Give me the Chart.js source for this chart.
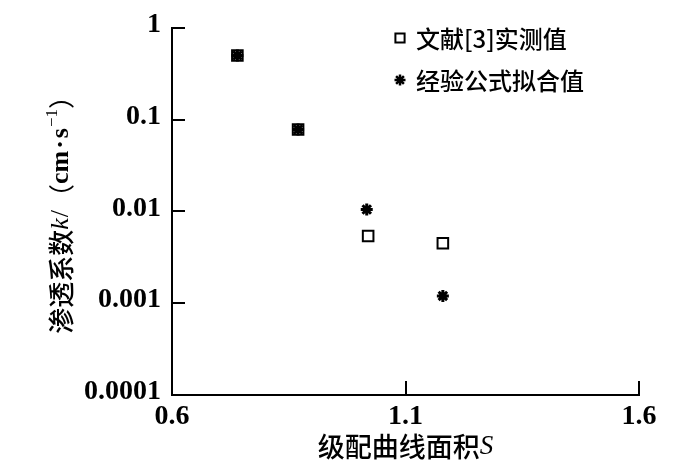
<!DOCTYPE html>
<html>
<head>
<meta charset="utf-8">
<script src="https://cdn.jsdelivr.net/npm/chart.js@4/dist/chart.umd.min.js"></script>
<style>
  html, body { margin: 0; padding: 0; background: #fff; }
  #wrap { width: 684px; height: 476px; }
</style>
</head>
<body>
<div id="wrap"><canvas id="c" width="684" height="476"></canvas></div>
<script>
// ---- data ----
const seriesNames = ['文献[3]实测值', '经验公式拟合值'];
const measuredS = [0.74, 0.87, 1.02, 1.18];
const measuredK = [0.50, 0.078, 0.0054, 0.0045];
const fittedS = [0.74, 0.87, 1.017, 1.18];
const fittedK = [0.50, 0.078, 0.0105, 0.0012];
const xTickValues = [0.6, 1.1, 1.6];
const xTickLabels = ['0.6', '1.1', '1.6'];
const yTickValues = [0.0001, 0.001, 0.01, 0.1, 1];
const yTickLabels = ['0.0001', '0.001', '0.01', '0.1', '1'];
const xTitleCJK = '级配曲线面积';
const xTitleVar = 'S';
const yTitleCJK = '渗透系数';
const yTitleVar = 'k';

const SERIF = '"Liberation Serif", "Times New Roman", serif';
const CJK = '"Noto Sans CJK SC", "Noto Sans", sans-serif';

const toPts = (xs, ys) => xs.map((v, i) => ({ x: v, y: ys[i] }));

const decor = {
  id: 'decor',
  afterDraw(chart) {
    const { ctx, chartArea: a, scales: { x, y } } = chart;
    ctx.save();
    ctx.strokeStyle = '#000';
    ctx.lineWidth = 2;
    // inward ticks
    yTickValues.forEach(v => {
      if (v === yTickValues[0]) return;
      const p = Math.round(y.getPixelForValue(v));
      ctx.beginPath(); ctx.moveTo(a.left, p); ctx.lineTo(a.left + 13, p); ctx.stroke();
    });
    xTickValues.forEach(v => {
      if (v === xTickValues[0]) return;
      const p = Math.round(x.getPixelForValue(v));
      ctx.beginPath(); ctx.moveTo(p, a.bottom); ctx.lineTo(p, a.bottom - 14); ctx.stroke();
    });

    ctx.fillStyle = '#000';
    ctx.textBaseline = 'middle';

    const drawSegs = (segs, cx, cy) => {
      let total = 0;
      segs.forEach(s => { ctx.font = s.font; s.w = ctx.measureText(s.t).width; total += s.w + (s.gap || 0); });
      let px = cx - total / 2;
      segs.forEach(s => {
        ctx.font = s.font;
        ctx.textAlign = 'left';
        ctx.fillText(s.t, px, cy + (s.dy || 0));
        px += s.w + (s.gap || 0);
      });
    };
    // x title
    drawSegs([
      { t: xTitleCJK, font: '500 27px ' + CJK },
      { t: xTitleVar, font: 'italic 27px ' + SERIF }
    ], (a.left + a.right) / 2, 447);

    // y title (rotated)
    ctx.save();
    ctx.translate(59, (a.top + a.bottom) / 2 - 3);
    ctx.rotate(-Math.PI / 2);
    drawSegs([
      { t: yTitleCJK, font: '500 26px ' + CJK },
      { t: yTitleVar, font: 'italic 26px ' + SERIF, gap: 1 },
      { t: '/', font: '26px ' + SERIF },
      { t: '（', font: '26px ' + CJK },
      { t: 'cm', font: 'bold 26px ' + SERIF, gap: 2 },
      { t: '·', font: 'bold 26px ' + SERIF, gap: 2 },
      { t: 's', font: 'bold 26px ' + SERIF, gap: 1 },
      { t: '−1', font: '17px ' + SERIF, dy: -8 },
      { t: '）', font: '26px ' + CJK }
    ], 0, 2);
    ctx.restore();

    // legend
    const lx = 400;
    const rows = [38, 80];
    const styles = ['rect', 'star'];
    const radii = [6.5, 5.5];
    const widths = [2, 2.5];
    rows.forEach((ry, i) => {
      ctx.strokeStyle = '#000';
      ctx.fillStyle = 'rgba(0,0,0,0)';
      ctx.lineWidth = widths[i];
      Chart.helpers.drawPoint(ctx, { pointStyle: styles[i], radius: radii[i], borderWidth: widths[i], rotation: 0 }, lx, ry);
      ctx.font = '500 24px ' + CJK;
      ctx.textAlign = 'left';
      ctx.fillStyle = '#000';
      ctx.fillText(seriesNames[i], 416, ry + 1);
    });
    ctx.restore();
  }
};

new Chart(document.getElementById('c'), {
  type: 'scatter',
  data: {
    datasets: [
      {
        label: seriesNames[0],
        data: toPts(measuredS, measuredK),
        pointStyle: 'rect',
        pointRadius: 7.5,
        pointBorderWidth: 2,
        borderColor: '#000',
        backgroundColor: 'rgba(0,0,0,0)',
        pointBackgroundColor: 'rgba(0,0,0,0)',
        pointBorderColor: '#000'
      },
      {
        label: seriesNames[1],
        data: toPts(fittedS, fittedK),
        pointStyle: 'star',
        pointRadius: 6,
        pointBorderWidth: 3,
        borderColor: '#000',
        pointBorderColor: '#000'
      }
    ]
  },
  options: {
    responsive: false,
    animation: false,
    devicePixelRatio: 1,
    layout: { padding: { left: 0, right: 45, top: 22, bottom: 0 } },
    plugins: { legend: { display: false }, tooltip: { enabled: false } },
    scales: {
      x: {
        type: 'linear',
        min: 0.6, max: 1.6,
        afterBuildTicks: s => { s.ticks = xTickValues.map(v => ({ value: v })); },
        afterFit: s => { s.height = 81; },
        grid: { display: false, drawTicks: false },
        border: { display: true, color: '#000', width: 2 },
        ticks: {
          color: '#000',
          padding: 5,
          maxRotation: 0,
          font: { family: SERIF, size: 28, weight: 'bold' },
          callback: (v, i) => xTickLabels[i]
        }
      },
      y: {
        type: 'logarithmic',
        min: 0.0001, max: 1,
        afterBuildTicks: s => { s.ticks = yTickValues.map(v => ({ value: v })); },
        afterFit: s => { s.width = 172; },
        grid: { display: false, drawTicks: false },
        border: { display: true, color: '#000', width: 2 },
        ticks: {
          color: '#000',
          padding: 11,
          labelOffset: -3,
          font: { family: SERIF, size: 28, weight: 'bold' },
          callback: (v, i) => yTickLabels[i]
        }
      }
    }
  },
  plugins: [decor]
});
</script>
</body>
</html>
